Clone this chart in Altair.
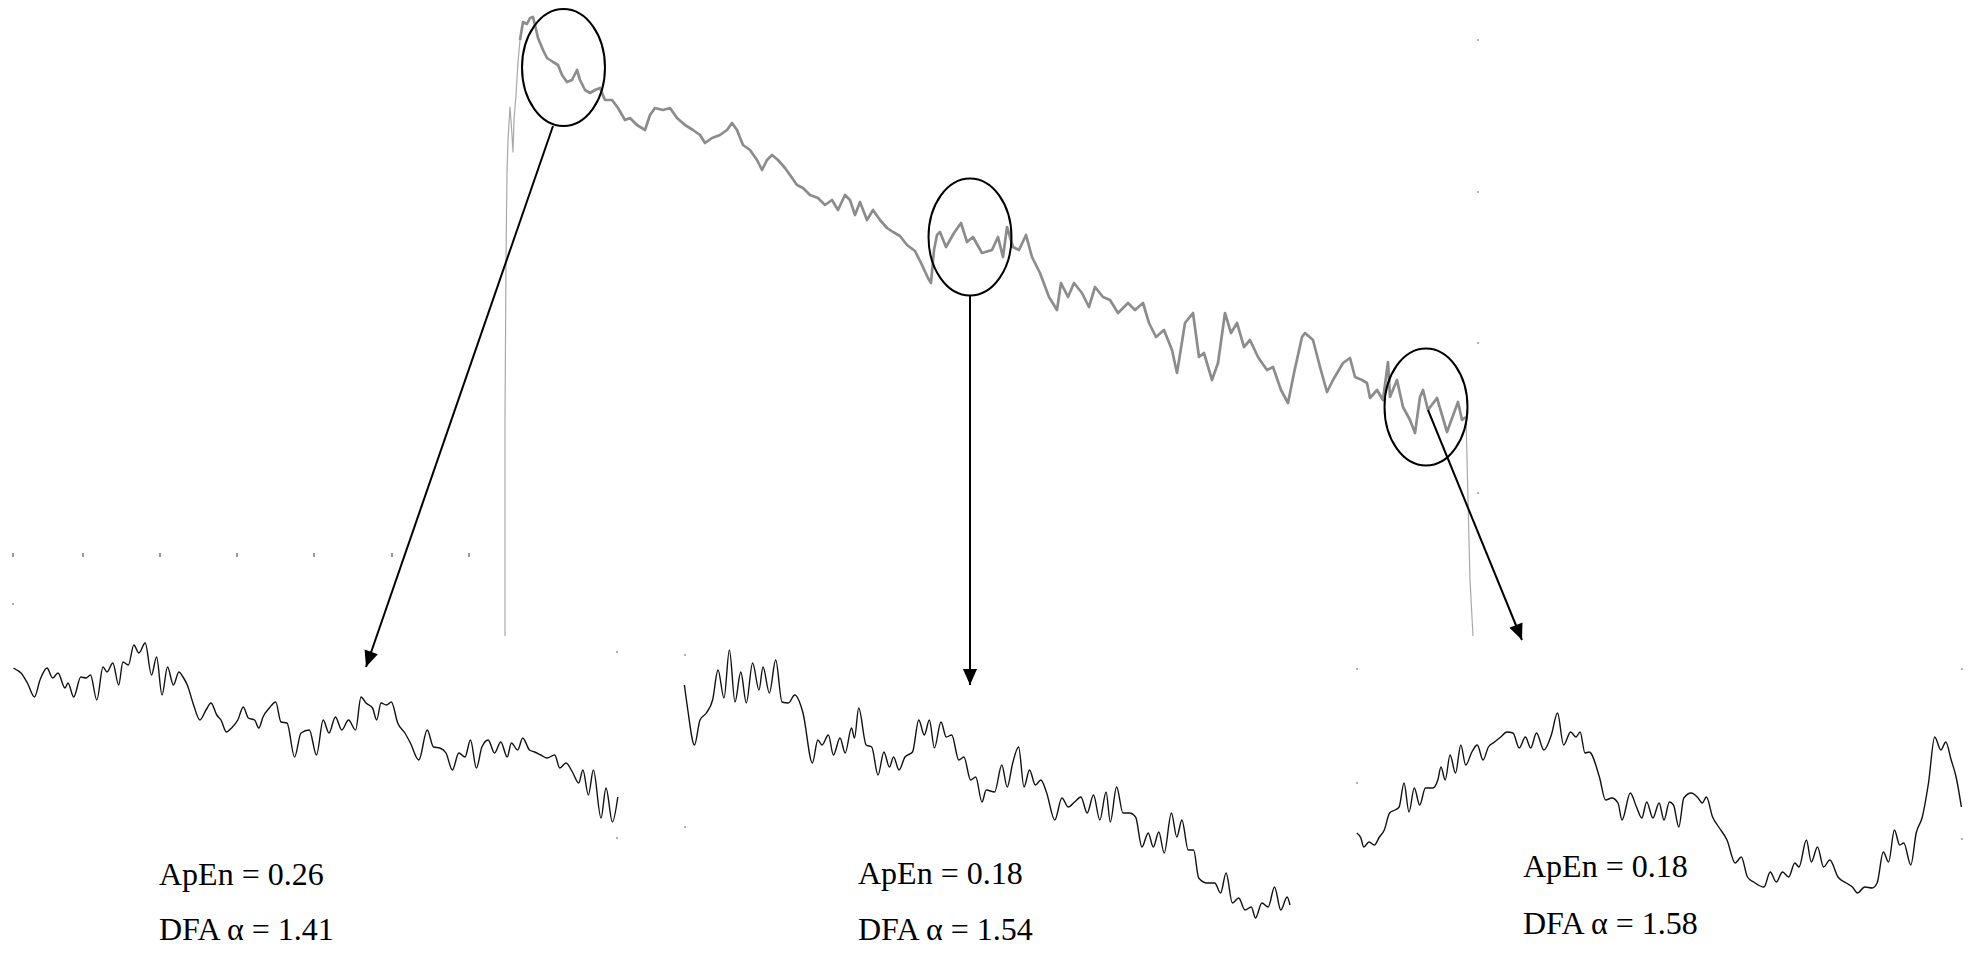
import altair as alt
import pandas as pd

# ---------------- data (figure units) ----------------
# long recording: onset, body, offset
rise_x = [505, 505, 506, 507, 508, 510, 512, 513, 514, 516, 518, 520]
rise_y = [636, 420, 260, 172, 140, 107, 135, 152, 120, 95, 62, 40]

body_x = [520, 523, 527, 530, 533, 535, 538, 543, 547, 553, 558, 562, 567, 572, 577, 580,
          585, 590, 595, 600, 605, 612, 618, 625, 630, 637, 645, 650, 655, 663, 670, 677,
          685, 693, 700, 705, 712, 720, 727, 732, 737, 743, 750, 757, 762, 767, 772, 778,
          785, 790, 797, 803, 810, 818, 825, 832, 838, 845, 850, 855, 860, 867, 873, 880,
          887, 893, 900, 907, 915, 922, 928, 931, 934, 937, 940, 946, 954, 961, 967, 973,
          982, 992, 998, 1003, 1007, 1013, 1019, 1026, 1032, 1040, 1049, 1057, 1061, 1068,
          1074, 1082, 1089, 1095, 1103, 1110, 1118, 1128, 1135, 1143, 1149, 1156, 1164,
          1172, 1177, 1185, 1193, 1199, 1204, 1212, 1218, 1225, 1231, 1237, 1244, 1250,
          1258, 1262, 1267, 1273, 1281, 1288, 1294, 1302, 1305, 1313, 1320, 1327, 1333,
          1343, 1350, 1355, 1362, 1367, 1370, 1377, 1383, 1388, 1390, 1397, 1403, 1410,
          1415, 1420, 1423, 1428, 1437, 1447, 1458, 1462, 1466]
body_y = [40, 22, 24, 18, 17, 25, 38, 50, 58, 62, 65, 75, 82, 80, 70, 80,
          90, 93, 90, 88, 100, 100, 108, 120, 118, 125, 130, 115, 108, 110, 108, 118,
          125, 130, 135, 143, 138, 135, 130, 123, 130, 145, 150, 160, 170, 160, 155, 160,
          168, 175, 185, 188, 195, 198, 205, 200, 210, 195, 200, 215, 202, 220, 210, 220,
          228, 232, 236, 245, 251, 265, 278, 283, 250, 235, 232, 247, 233, 223, 242, 237,
          253, 250, 237, 257, 227, 247, 250, 235, 257, 273, 297, 310, 283, 297,
          283, 293, 307, 287, 297, 300, 313, 303, 310, 303, 323, 337, 330,
          350, 373, 323, 313, 357, 353, 380, 363, 313, 333, 323, 347, 340,
          357, 363, 370, 367, 390, 403, 373, 337, 333, 340, 367, 392, 380,
          363, 358, 377, 380, 383, 398, 390, 400, 362, 397, 380, 407, 420,
          433, 397, 390, 410, 398, 432, 402, 420, 417]

fall_x = [1466, 1468, 1470, 1473]
fall_y = [417, 500, 580, 636]

# zoomed segments (bottom row)
seg1_x = [13.5, 16.8, 21, 27.4, 34.5, 40, 47, 52.6, 58, 65, 68, 73.7, 80.8, 86, 90.5, 96.8,
          103, 107, 112.8, 118.7, 122.9, 128.4, 133.8, 138.9, 145.2, 151.5, 156.6, 162,
          167.5, 173.4, 178.9, 183, 187.3, 193.6, 199.9, 206, 211, 216.8, 221, 226.4, 231.5,
          237.8, 243.3, 248.3, 254.6, 258.8, 263, 269.4, 275.7, 281, 287, 294.6, 301, 309.3,
          316.5, 323.2, 329, 335.4, 341.8, 348.5, 355.6, 361, 366, 372.5, 376.7, 381, 386.4,
          391.4, 397.7, 404.9, 410.4, 418.8, 427.2, 433.5, 439.8, 446, 452.4, 458.8, 465,
          470.5, 476.4, 481.9, 488.2, 494.5, 500.8, 507.2, 511.4, 517.7, 522.7, 529.5, 534.5,
          540.8, 547, 554.7, 559.8, 566, 572.4, 578.7, 582.9, 588.4, 593.4, 601, 606, 612.4,
          617.8]
seg1_y = [668, 670, 673, 683, 697, 680, 668, 678, 673, 688, 683, 697, 677, 678, 675, 700,
          667, 672, 663, 685, 662, 665, 645, 653, 643, 675, 657, 695,
          667, 685, 672, 677, 685, 705, 720, 710, 703, 715, 720, 732, 728,
          720, 707, 718, 720, 728, 717, 708, 702, 722, 723, 757, 733, 730,
          755, 720, 733, 717, 730, 720, 730, 697, 703, 708, 720, 703, 705,
          702, 723, 733, 743, 760, 730, 747, 748, 753, 770, 753, 757,
          740, 768, 747, 740, 753, 742, 757, 743, 750, 738, 750, 752,
          755, 758, 755, 768, 763, 772, 783, 770, 795, 770, 818, 788, 822,
          797]

seg2_x = [684.4, 687.4, 694.5, 700, 706.3, 712.6, 718, 724, 729.4, 735, 740.8, 746.3, 752.6,
          759, 763, 769.4, 775.7, 782, 788.4, 794.7, 803, 812.4, 817.8, 822, 828.4, 833.4,
          840, 845.2, 851.5, 854.5, 858.7, 866.2, 871.7, 878, 883.9, 889.4, 893.6, 899, 905,
          912.5, 918.8, 924.3, 929.4, 934.4, 941, 946.2, 951.7, 958.8, 963.9, 970.6, 975.7,
          982, 986.2, 994.6, 1001.8, 1007.2, 1012.7, 1018.6, 1024, 1029.5, 1035.4, 1040.9,
          1046.4, 1054.8, 1061.9, 1068.2, 1074.6, 1080.9, 1087.2, 1093.5, 1099.8, 1106.1,
          1110.3, 1116.6, 1123, 1129.3, 1135.6, 1141.9, 1148.2, 1153.3, 1158.8, 1164.2,
          1171.4, 1176.8, 1181.9, 1188.2, 1193.6, 1198.7, 1207.1, 1214.7, 1220.6, 1226.1,
          1232.4, 1238.7, 1245, 1251.3, 1255.5, 1261.9, 1268.2, 1274.5, 1280.8, 1287.1, 1290]
seg2_y = [685, 707, 745, 720, 713, 700, 670, 698, 650, 702, 672, 703, 663,
          690, 667, 693, 660, 702, 703, 695, 713, 763, 740, 745, 735, 755,
          738, 753, 728, 738, 708, 745, 747, 775, 752, 767, 757, 770, 757,
          752, 720, 735, 720, 748, 722, 737, 735, 760, 757, 780, 777,
          802, 790, 792, 765, 787, 763, 747, 787, 770, 785, 780,
          792, 820, 798, 807, 802, 797, 813, 795, 820, 792,
          822, 787, 813, 813, 817, 847, 833, 847, 832, 853,
          813, 837, 820, 850, 850, 878, 883, 883, 893, 873,
          903, 898, 910, 907, 918, 903, 907, 887, 910, 897, 905]

seg3_x = [1356.7, 1360.9, 1363.7, 1369, 1374.4, 1379.4, 1384.3, 1389.6, 1395, 1399.1, 1404,
          1409, 1414.3, 1419.7, 1425.4, 1432.8, 1437.8, 1441, 1445.2, 1450.1, 1455.5, 1460.8,
          1465.7, 1471.9, 1477.3, 1483, 1488.4, 1494.5, 1500.7, 1506.9, 1513, 1519.2, 1525.4,
          1530.7, 1536.5, 1543.9, 1551.3, 1557.5, 1563.6, 1570.6, 1576, 1580.1, 1585, 1589.2,
          1599.4, 1605.6, 1611.8, 1618, 1622, 1630.3, 1636.5, 1641.8, 1646.7, 1652.9, 1659.1,
          1664, 1669.4, 1673.5, 1678.8, 1683.8, 1691.2, 1697.3, 1702.3, 1706.4, 1712.6,
          1718.7, 1727, 1735.2, 1741.3, 1747.5, 1753.7, 1764, 1770.2, 1776.3, 1782.5, 1788.7,
          1794.8, 1799, 1806.4, 1811.3, 1817.5, 1823.6, 1829.8, 1838, 1846.3, 1852.4, 1857.4,
          1864.8, 1872.2, 1877.1, 1883.3, 1888.6, 1894.4, 1899.7, 1903.8, 1910.8, 1916.2,
          1922.3, 1928.5, 1934.7, 1940.9, 1945.8, 1951.2, 1956.1, 1961.4]
seg3_y = [833, 838, 847, 842, 845, 837, 830, 813, 810, 807, 783,
          812, 788, 805, 788, 788, 780, 767, 780, 755, 773, 745,
          765, 752, 745, 760, 747, 742, 737, 732, 733, 748, 737,
          748, 733, 750, 735, 713, 745, 732, 737, 732, 753, 752,
          777, 800, 798, 803, 820, 793, 807, 818, 802, 818, 803,
          820, 802, 805, 827, 798, 793, 797, 803, 797, 817,
          827, 840, 863, 857, 877, 882, 887, 872, 882, 872, 877,
          863, 867, 840, 862, 847, 867, 860, 877, 883, 887, 893,
          887, 888, 883, 852, 862, 830, 845, 843, 865, 833,
          817, 783, 737, 750, 742, 760, 777, 807]

# annotations
ring_x = [563.5, 970, 1426]
ring_y = [67.5, 237, 407]
arrow_x = [553, 970, 1428]
arrow_y = [126, 295, 410]
arrow_x2 = [366, 970, 1522]
arrow_y2 = [667, 685, 640]
arrow_angle = [19.1, 0, 337.8]

label_text = ["ApEn = 0.26", "DFA \u03b1 = 1.41", "ApEn = 0.18", "DFA \u03b1 = 1.54",
              "ApEn = 0.18", "DFA \u03b1 = 1.58"]
label_x = [159, 159, 858, 858, 1523, 1523]
label_y = [885, 940, 884, 940, 877, 934]

tick_x = [13, 83, 160, 237, 314, 392, 469]
tick_y = [555, 555, 555, 555, 555, 555, 555]
dot_x = [1478, 1478, 1478, 1478, 13, 617, 617, 685, 685, 1357, 1357, 1962, 1962]
dot_y = [40, 192, 343, 493, 604, 652, 838, 655, 827, 669, 783, 669, 839]

# ---------------- chart ----------------
def frame(xs, ys):
    return pd.DataFrame({"x": xs, "y": ys, "i": list(range(len(xs)))})

X = alt.X("x:Q", scale=alt.Scale(domain=[8, 1967], nice=False, zero=False), axis=None)
Y = alt.Y("y:Q", scale=alt.Scale(domain=[8, 947], nice=False, zero=False, reverse=True), axis=None)


def trace(xs, ys, color, width, interp="linear"):
    return alt.Chart(frame(xs, ys)).mark_line(
        color=color, strokeWidth=width, interpolate=interp, strokeJoin="round"
    ).encode(x=X, y=Y, order="i:Q")


ELLIPSE = ("M 0 -1 C 0.3916 -1 0.709 -0.5523 0.709 0 C 0.709 0.5523 0.3916 1 0 1 "
           "C -0.3916 1 -0.709 0.5523 -0.709 0 C -0.709 -0.5523 -0.3916 -1 0 -1 Z")
HEAD = "M 0 0 L -0.44 -1 L 0.44 -1 Z"
TICK = "M 0 -1 L 0 1"

rings = alt.Chart(pd.DataFrame({"x": ring_x, "y": ring_y})).mark_point(
    shape=ELLIPSE, size=13689, filled=False, color="black", strokeWidth=2, opacity=1
).encode(x=X, y=Y)

arrows_df = pd.DataFrame({"x": arrow_x, "y": arrow_y, "x2": arrow_x2, "y2": arrow_y2})
shafts = alt.Chart(arrows_df).mark_rule(color="black", strokeWidth=2).encode(
    x=X, y=Y, x2="x2:Q", y2="y2:Q")

heads_df = pd.DataFrame({"x": arrow_x2, "y": arrow_y2, "a": arrow_angle})
heads = alt.Chart(heads_df).mark_point(
    shape=HEAD, size=1024, filled=True, color="black", opacity=1, strokeWidth=0
).encode(x=X, y=Y, angle=alt.Angle("a:Q", scale=None))

labels = alt.Chart(pd.DataFrame({"x": label_x, "y": label_y, "t": label_text})).mark_text(
    align="left", baseline="alphabetic",
    font="'Liberation Serif', 'Times New Roman', 'DejaVu Serif', serif",
    fontSize=32, color="black"
).encode(x=X, y=Y, text="t:N")

ticks = alt.Chart(pd.DataFrame({"x": tick_x, "y": tick_y})).mark_point(
    shape=TICK, size=16, filled=False, color="#555555", strokeWidth=1.2, opacity=1
).encode(x=X, y=Y)

dots = alt.Chart(pd.DataFrame({"x": dot_x, "y": dot_y})).mark_point(
    shape="square", size=3, filled=True, color="#888888", opacity=1, strokeWidth=0
).encode(x=X, y=Y)

chart = alt.layer(
    trace(rise_x, rise_y, "#a8a8a8", 1.2),
    trace(fall_x, fall_y, "#a8a8a8", 1.2),
    trace(body_x, body_y, "#8c8c8c", 2.7),
    trace(seg1_x, seg1_y, "#111111", 1.4, "monotone"),
    trace(seg2_x, seg2_y, "#111111", 1.4, "monotone"),
    trace(seg3_x, seg3_y, "#111111", 1.4, "monotone"),
    rings, shafts, heads, labels, ticks, dots,
).properties(
    width=1959, height=939, padding=0, autosize="none", background="white"
).configure_view(strokeWidth=0)

chart.save("out.html", embed_options={"renderer": "svg", "actions": False})
